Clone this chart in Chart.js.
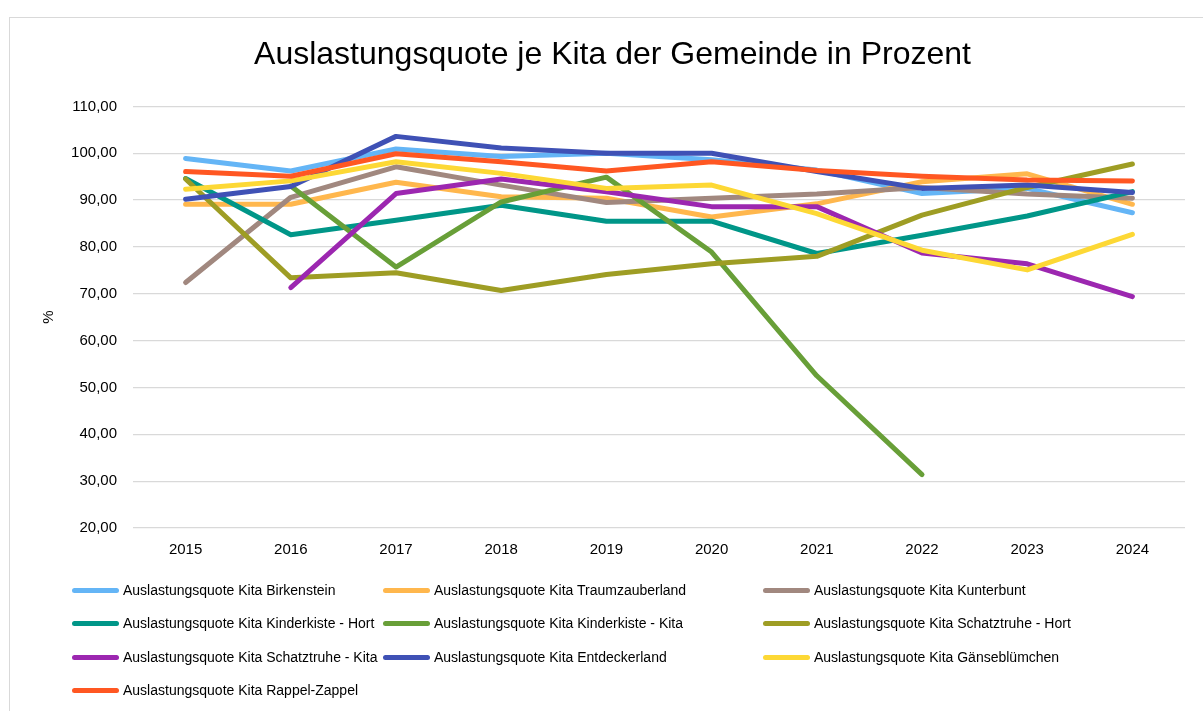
<!DOCTYPE html>
<html>
<head>
<meta charset="utf-8">
<script src="https://cdn.jsdelivr.net/npm/chart.js@4"></script>
<style>
    body { margin: 0; background: #fff; }
    #wrap { position: relative; width: 1203px; height: 711px; overflow: hidden; font-family: "Liberation Sans", Arial, sans-serif; }
    #frame { position: absolute; left: 9px; top: 17px; width: 1300px; height: 800px; border: 1px solid #d9d9d9; }
    #chart { position: absolute; left: 0; top: 0; }
    .leg { position: absolute; display: flex; align-items: center; font-size: 14px; color: #000; white-space: nowrap; }
    .leg span.sw { display: inline-block; width: 47px; height: 5px; border-radius: 3px; margin-right: 4px; }
</style>
</head>
<body>
<div id="wrap">
    <div id="frame"></div>
    <canvas id="chart" width="1203" height="711"></canvas>
    <div id="legend"></div>
</div>
<script>
// Categories (years)
const years = ['2015', '2016', '2017', '2018', '2019', '2020', '2021', '2022', '2023', '2024'];

// Series values (percent)
const birkenstein     = [98.9, 96.2, 100.9, 99.3, 100.0, 98.6, 96.4, 91.4, 92.5, 87.3];
const traumzauberland = [89.1, 89.1, 93.8, 90.7, 90.4, 86.4, 89.2, 93.9, 95.6, 89.1];
const kunterbunt      = [72.4, 90.6, 97.1, 93.2, 89.5, 90.4, 91.3, 92.7, 91.3, 90.4];
const kinderkisteHort = [94.6, 82.6, 85.7, 88.9, 85.5, 85.5, 78.6, 82.5, 86.6, 91.8];
const kinderkisteKita = [null, 93.0, 75.7, 89.6, 94.9, 78.9, 52.5, 31.4, null, null];
const schatztruheHort = [94.5, 73.4, 74.5, 70.7, 74.1, 76.4, 78.0, 86.8, 92.7, 97.7];
const schatztruheKita = [null, 71.3, 91.4, 94.5, 91.8, 88.6, 88.6, 78.7, 76.4, 69.4];
const entdeckerland   = [90.2, 92.9, 103.6, 101.1, 100.0, 100.0, 96.1, 92.5, 93.2, 91.6];
const gaensebluemchen = [92.3, 94.1, 98.2, 95.7, 92.5, 93.2, 87.1, 79.3, 75.1, 82.7];
const rappelZappel    = [96.1, 95.1, 99.9, 98.2, 96.2, 98.2, 96.3, 95.1, 94.3, 94.1];

const seriesNames = [
    'Auslastungsquote Kita Birkenstein',
    'Auslastungsquote Kita Traumzauberland',
    'Auslastungsquote Kita Kunterbunt',
    'Auslastungsquote Kita Kinderkiste - Hort',
    'Auslastungsquote Kita Kinderkiste - Kita',
    'Auslastungsquote Kita Schatztruhe - Hort',
    'Auslastungsquote Kita Schatztruhe - Kita',
    'Auslastungsquote Kita Entdeckerland',
    'Auslastungsquote Kita Gänseblümchen',
    'Auslastungsquote Kita Rappel-Zappel'
];
const seriesValues = [birkenstein, traumzauberland, kunterbunt, kinderkisteHort, kinderkisteKita,
    schatztruheHort, schatztruheKita, entdeckerland, gaensebluemchen, rappelZappel];
const seriesColors = ['#64B5F6', '#FFB74D', '#A1887F', '#009688', '#689F38',
    '#9E9D24', '#9C27B0', '#3F51B5', '#FDD835', '#FF5722'];

const yTicks = { min: 20, max: 110, step: 10 };
const FONT = '"Liberation Sans", Arial, sans-serif';

// later series sit on top, like in Excel
const datasets = seriesNames.map((name, i) => ({
    label: name,
    data: seriesValues[i],
    borderColor: seriesColors[i],
    backgroundColor: seriesColors[i],
    borderWidth: 5,
    borderCapStyle: 'round',
    borderJoinStyle: 'round',
    pointRadius: 0,
    tension: 0,
    spanGaps: false,
    order: -i
}));

const ctx = document.getElementById('chart').getContext('2d');
const chart = new Chart(ctx, {
    type: 'line',
    data: { labels: years, datasets: datasets },
    options: {
        responsive: false,
        animation: false,
        layout: { padding: { left: 40, right: 18, top: 0, bottom: 143 } },
        scales: {
            x: {
                offset: true,
                grid: { display: false },
                border: { display: false },
                ticks: { color: '#000', font: { family: FONT, size: 15 }, padding: 5, maxRotation: 0 },
                afterFit: (s) => { s.height = 40; }
            },
            y: {
                min: yTicks.min,
                max: yTicks.max,
                grid: { color: '#d9d9d9', lineWidth: 1.3, drawTicks: false },
                border: { display: false },
                ticks: {
                    stepSize: yTicks.step,
                    color: '#000',
                    padding: 16,
                    font: { family: FONT, size: 15 },
                    callback: (v) => v.toFixed(2).replace('.', ',')
                },
                title: { display: true, text: '%', color: '#000', font: { family: FONT, size: 15 }, padding: 0 },
                afterFit: (s) => { s.width = 93; }
            }
        },
        plugins: {
            legend: { display: false },
            tooltip: { enabled: false },
            title: {
                display: true,
                text: 'Auslastungsquote je Kita der Gemeinde in Prozent',
                color: '#000',
                font: { family: FONT, size: 32, weight: 'normal' },
                padding: { top: 36, bottom: 32 }
            }
        }
    }
});

// Legend laid out in three columns like the original
const legCols = [72, 383, 763];
const legRows = [590, 623, 657, 690];
const legendEl = document.getElementById('legend');
chart.data.datasets.forEach((ds, i) => {
    const item = document.createElement('div');
    item.className = 'leg';
    item.style.left = legCols[i % 3] + 'px';
    item.style.top = (legRows[Math.floor(i / 3)] - 9) + 'px';
    item.style.height = '18px';
    const sw = document.createElement('span');
    sw.className = 'sw';
    sw.style.background = ds.borderColor;
    item.appendChild(sw);
    item.appendChild(document.createTextNode(ds.label));
    legendEl.appendChild(item);
});
</script>
</body>
</html>
